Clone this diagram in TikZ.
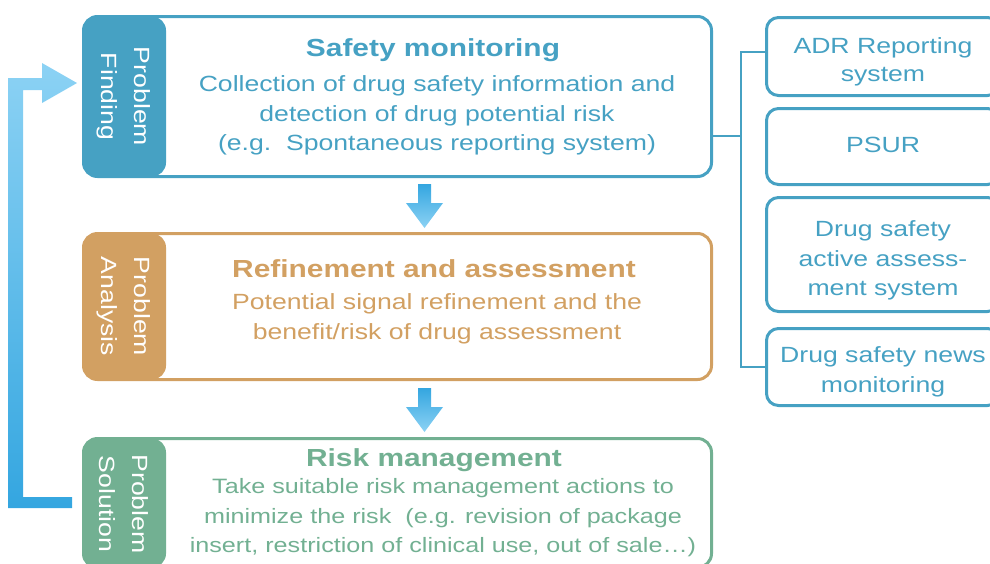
\documentclass[tikz,border=0pt]{standalone}
\usepackage{fontspec}
\setmainfont[FakeStretch=1.21]{Liberation Sans}
\usetikzlibrary{calc}
\definecolor{cblue}{RGB}{70,161,195}
\definecolor{ctan}{RGB}{210,160,98}
\definecolor{cgreen}{RGB}{114,176,146}
\definecolor{alight}{RGB}{140,210,244}
\definecolor{adark}{RGB}{52,166,224}
\begin{document}
\begin{tikzpicture}[x=1pt,y=-1pt,
  mainbox/.style={draw=#1, line width=3pt, rounded corners=14pt,
    minimum width=628pt, inner sep=0pt,
    path picture={\fill[#1] (path picture bounding box.north west) rectangle ([xshift=82.5pt]path picture bounding box.south west);}},
  tabtext/.style={rotate=-90, text=white, align=center, inner sep=0pt,
    font=\fontsize{22}{33}\selectfont},
  titletext/.style={text=#1, anchor=base, inner sep=0pt,
    font=\fontsize{24.7}{30}\selectfont\bfseries},
  bodytext/.style={text=#1, align=center, inner sep=0pt,
    font=\fontsize{22}{29.7}\selectfont},
  sidebox/.style={draw=cblue, line width=3pt, rounded corners=12pt,
    minimum width=233pt, inner sep=0pt},
  sidetext/.style={text=cblue, align=center, inner sep=0pt,
    font=\fontsize{22}{29.5}\selectfont},
  link/.style={draw=cblue, line width=1.5pt}
]
\useasboundingbox (0,0) rectangle (990,563);

% main boxes
\node[mainbox=cblue, minimum height=160pt] (sm) at (397.5,96.5) {};
\node[mainbox=ctan,  minimum height=146pt] (rf) at (397.5,306.5) {};
\node[mainbox=cgreen,minimum height=129pt] (rm) at (397.5,503) {};

% tab labels
\node[tabtext] (t1) at (124,96.5) {Problem\\Finding};
\node[tabtext] (t2) at (124,306.5) {Problem\\Analysis};
\node[tabtext] (t3) at (124,504) {Problem\\Solution};

% texts
\node[titletext=cblue] (h1) at (433,56.5) {Safety monitoring};
\node[bodytext=cblue] (d1) at (437,115.4) {Collection of drug safety information and\\detection of drug potential risk\\(e.g.\ \ Spontaneous reporting system)};
\node[titletext=ctan] (h2) at (434,277) {Refinement and assessment};
\node[bodytext=ctan] (d2) at (437,318.8) {Potential signal refinement and the\\benefit/risk of drug assessment};
\node[titletext=cgreen] (h3) at (434,466) {Risk management};
\node[bodytext=cgreen, font=\fontsize{20.8}{29.8}\selectfont] (d3) at (443,517.8) {Take suitable risk management actions to\\minimize the risk\ \ (e.g. revision of package\\insert, restriction of clinical use, out of sale…)};

% side boxes
\node[sidebox, minimum height=78pt] (b1) at (883,56.5) {};
\node[sidebox, minimum height=76pt] (b2) at (883,146.5) {};
\node[sidebox, minimum height=114pt] (b3) at (883,254.5) {};
\node[sidebox, minimum height=77pt] (b4) at (883,367) {};
\node[sidetext, font=\fontsize{22}{28}\selectfont] (l1) at (883,61.5) {ADR Reporting\\system};
\node[sidetext] (l2) at (883,145) {PSUR};
\node[sidetext] (l3) at (883,260.5) {Drug safety\\active assess-\\ment system};
\node[sidetext] (l4) at (883,372) {Drug safety news\\monitoring};

% bracket connector
\coordinate (bt) at (741,52);
\coordinate (bm) at (741,136);
\coordinate (bb) at (741,367);
\draw[link] (sm.east |- bm) -- (bm);
\draw[link] (b1.west |- bt) -- (bt) -- (bb) -- (b4.west);

% down arrows
\coordinate (s1) at ([xshift=27pt,yshift=-6pt]sm.south);
\coordinate (e1) at ([xshift=27pt,yshift=4pt]rf.north);
\shade[top color=adark, bottom color=alight]
  ($(s1)+(-6.5,0)$) -- ($(s1)+(6.5,0)$) -- ($(e1)+(6.5,-25)$) -- ($(e1)+(18.5,-25)$)
  -- (e1) -- ($(e1)+(-18.5,-25)$) -- ($(e1)+(-6.5,-25)$) -- cycle;
\coordinate (s2) at ([xshift=27pt,yshift=-7pt]rf.south);
\coordinate (e2) at ([xshift=27pt,yshift=5pt]rm.north);
\shade[top color=adark, bottom color=alight]
  ($(s2)+(-6.5,0)$) -- ($(s2)+(6.5,0)$) -- ($(e2)+(6.5,-25)$) -- ($(e2)+(18.5,-25)$)
  -- (e2) -- ($(e2)+(-18.5,-25)$) -- ($(e2)+(-6.5,-25)$) -- cycle;

% feedback arrow
\coordinate (fb) at (72,502.5);
\coordinate (ft) at (77,83);
\shade[top color=alight, bottom color=adark]
  ($(fb)+(0,5.5)$) -- (8,508) -- (8,78) -- (42,78) -- (42,63) -- (ft)
  -- (42,103) -- (42,90) -- (23,90) -- (23,497) -- ($(fb)+(0,-5.5)$) -- cycle;
\end{tikzpicture}
\end{document}
